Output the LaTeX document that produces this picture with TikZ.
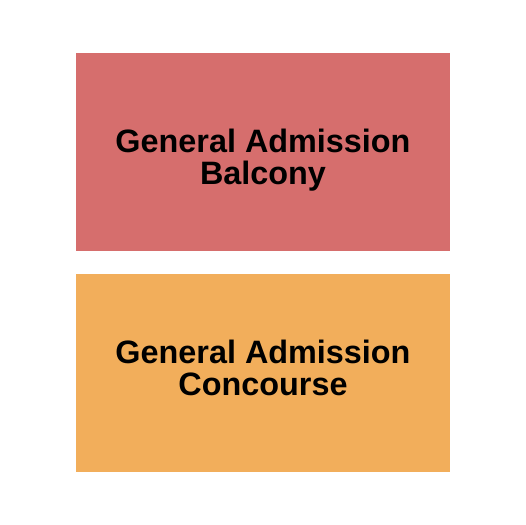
\documentclass[tikz,border=0pt]{standalone}
\usepackage{fontspec}
\setmainfont{Liberation Sans}
\definecolor{balc}{HTML}{D66E6D}
\definecolor{conc}{HTML}{F2AE5B}
\begin{document}
\begin{tikzpicture}[x=1bp,y=-1bp,
  lbl/.style={anchor=base,inner sep=0pt,font=\fontsize{32.5}{34}\selectfont\bfseries}]
\useasboundingbox (0,0) rectangle (525,525);
\fill[balc] (76,53) rectangle (450,251);
\fill[conc] (76,274) rectangle (450,472);
\node[lbl] (b1) at (263,152.5) {General Admission};
\node[lbl] (b2) at (263,185) {Balcony};
\node[lbl] (c1) at (263,363) {General Admission};
\node[lbl] (c2) at (263,395.5) {Concourse};
\end{tikzpicture}
\end{document}
